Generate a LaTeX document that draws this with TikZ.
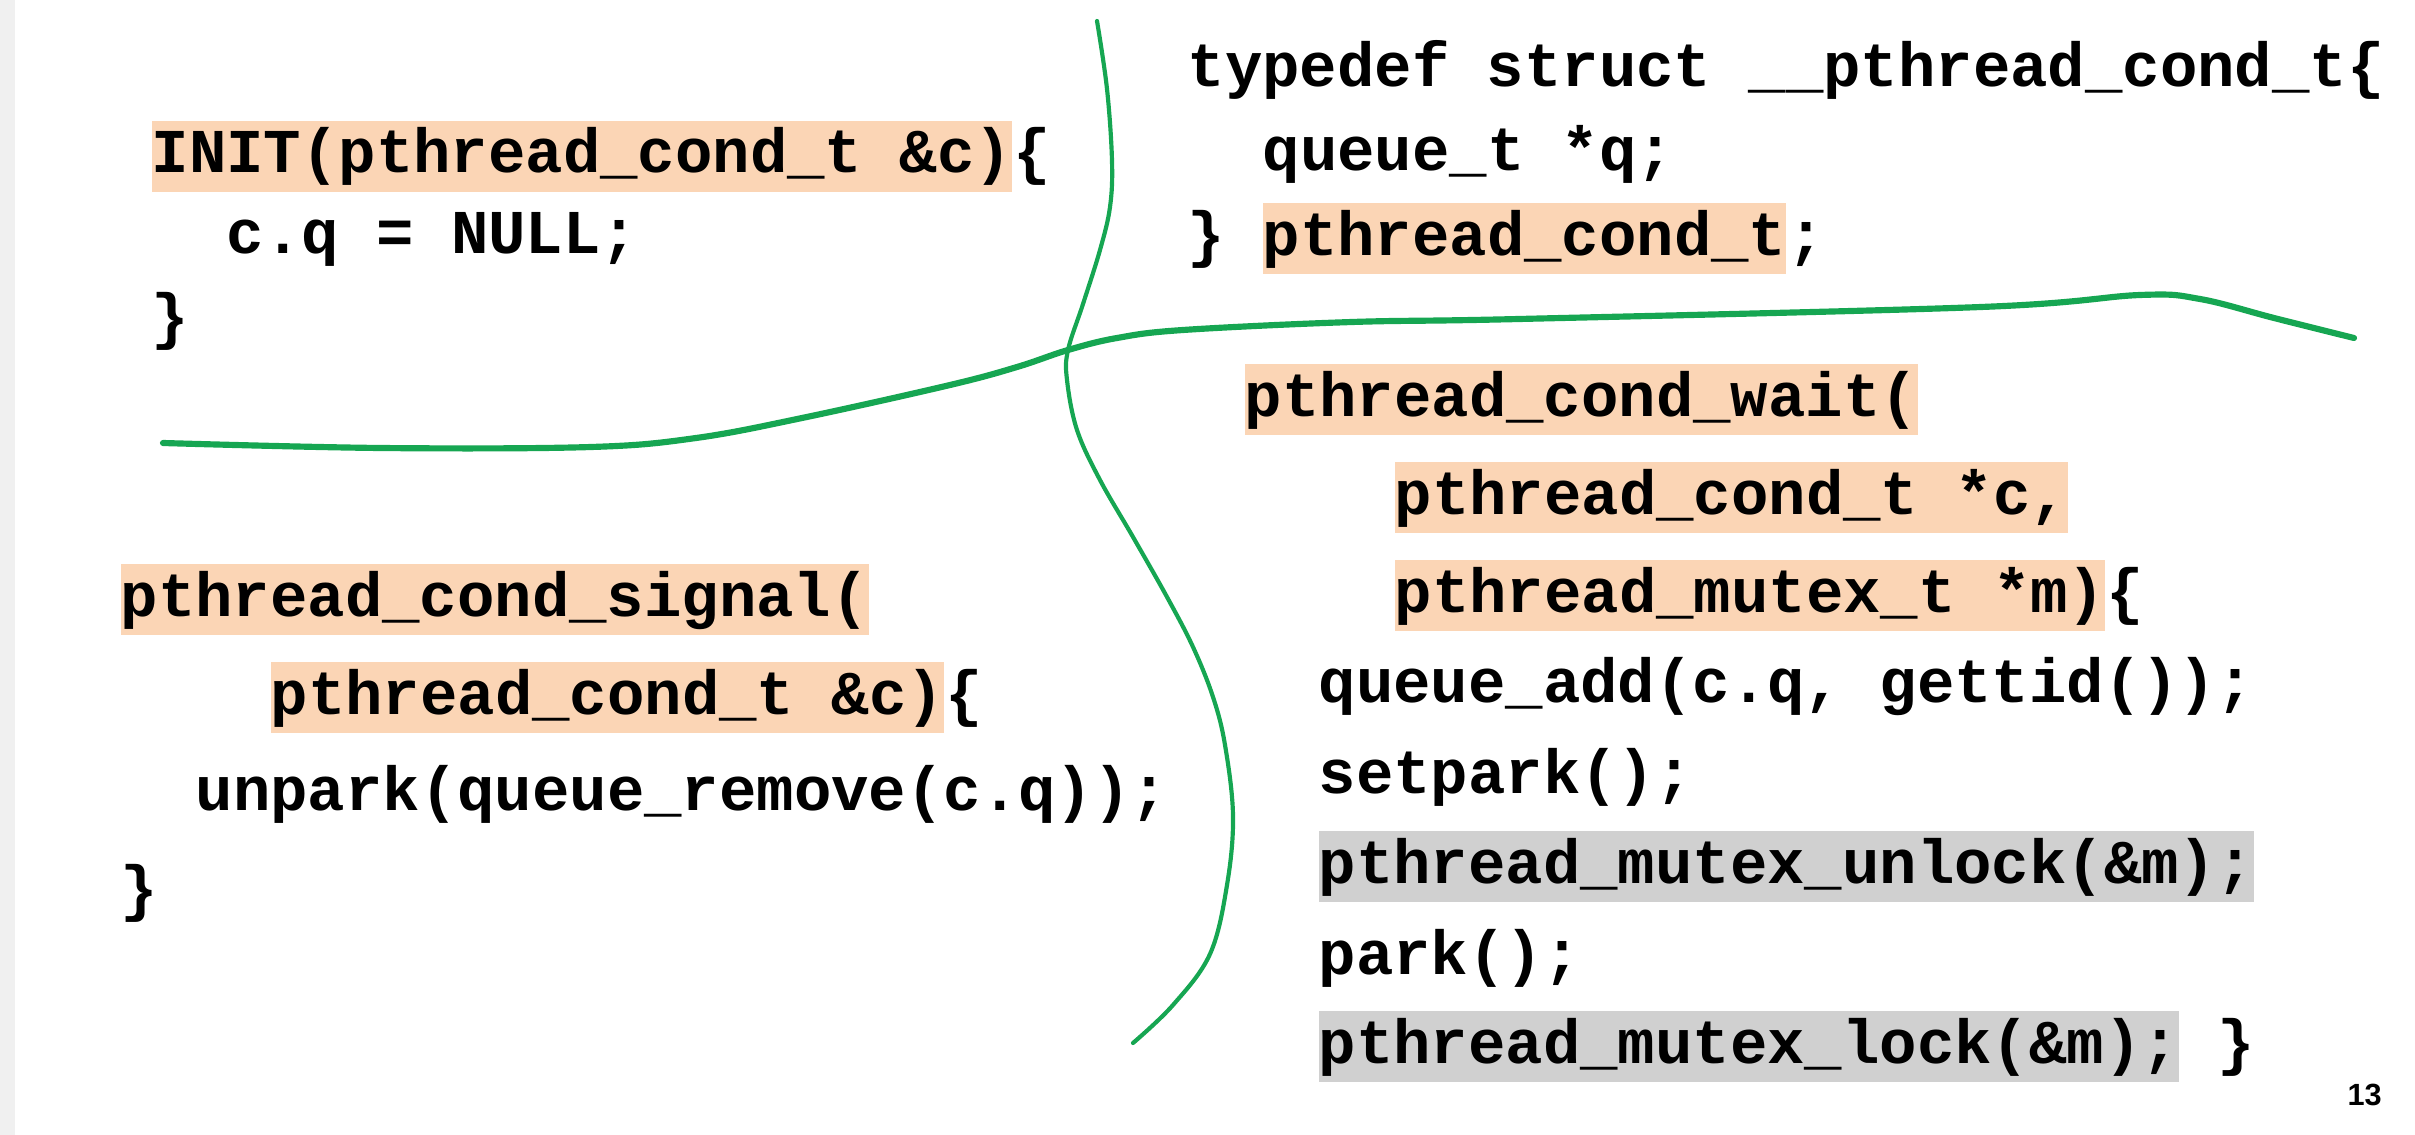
\documentclass[tikz,border=0pt]{standalone}
\usepackage{fontspec}
\setmonofont{Liberation Mono}
\newfontfamily\numfont{Liberation Sans}
\definecolor{peach}{RGB}{251,213,181}
\definecolor{hlgray}{RGB}{208,208,208}
\definecolor{pen}{RGB}{22,166,82}
\definecolor{edge}{RGB}{240,240,240}
\tikzset{
  code/.style={inner sep=0pt, anchor=base west, font=\ttfamily\bfseries\fontsize{18.7}{22}\selectfont},
  hl/.style={code, fill=peach, text height=15.6pt, text depth=5.7pt},
  hlg/.style={code, fill=hlgray, text height=15.6pt, text depth=5.7pt},
  thinpen/.style={draw=pen, line width=1.25pt, line cap=round},
  thickpen/.style={draw=pen, line width=1.85pt, line cap=round},
  pagenum/.style={inner sep=0pt, anchor=base west, font=\numfont\bfseries\fontsize{9.2}{11}\selectfont}
}
\begin{document}
\begin{tikzpicture}[x=0.3pt,y=-0.3pt]
\useasboundingbox (0,0) rectangle (2415,1135);
\fill[edge] (0,0) rectangle (15,1135);

% top-left block
\node[hl] (init) at (151,173) {INIT(pthread\_cond\_t \&c)};
\node[code] (initb) at (init.base east) {\{};
\node[code] (cq) at (226,254) {c.q = NULL;};
\node[code] (initc) at (151,338) {\}};

% top-right block
\node[code] (td) at (1187,87) {typedef struct \_\_pthread\_cond\_t\{};
\node[code] (qt) at (1262,170) {queue\_t *q;};
\node[code] (tdc) at (1187,255) {\}};
\node[hl] (pct) at (1262,255) {pthread\_cond\_t};
\node[code] (pcts) at (pct.base east) {;};

% bottom-left block
\node[hl] (sig) at (120,616) {pthread\_cond\_signal(};
\node[hl] (sigarg) at (270,714) {pthread\_cond\_t \&c)};
\node[code] (sigb) at (sigarg.base east) {\{};
\node[code] (unpark) at (195,810) {unpark(queue\_remove(c.q));};
\node[code] (sigc) at (120,909) {\}};

% bottom-right block
\node[hl] (wait) at (1244,416) {pthread\_cond\_wait(};
\node[hl] (waitc) at (1394,514) {pthread\_cond\_t *c,};
\node[hl] (waitm) at (1394,612) {pthread\_mutex\_t *m)};
\node[code] (waitb) at (waitm.base east) {\{};
\node[code] (qadd) at (1318,702) {queue\_add(c.q, gettid());};
\node[code] (setp) at (1318,793) {setpark();};
\node[hlg] (unl) at (1318,883) {pthread\_mutex\_unlock(\&m);};
\node[code] (park) at (1318,974) {park();};
\node[hlg] (lock) at (1318,1063) {pthread\_mutex\_lock(\&m);};
\node[code] (lockc) at ([xshift=11.22pt]lock.base east) {\}};

\node[pagenum] (num) at (2347,1105) {13};

% green hand-drawn dividers
\draw[thinpen] plot[smooth, tension=0.6] coordinates {
  (1097,21) (1107,89) (1112,161) (1110,207) (1100,250) (1083,304)
  (1068,350) (1067,380) (1077,430) (1100,480) (1133,537) (1167,597)
  (1193,647) (1213,697) (1225,745) (1233,816) (1227,885) (1210,954)
  (1173,1005) (1133,1043)};
\draw[thickpen] plot[smooth, tension=0.6] coordinates {
  (163,443) (381,448) (591,447) (696,438) (802,418) (950,385)
  (1017,367) (1068,350) (1117,338) (1183,330) (1352,322) (1519,319)
  (1981,307) (2140,295) (2200,299) (2274,318) (2354,338)};
\end{tikzpicture}
\end{document}
